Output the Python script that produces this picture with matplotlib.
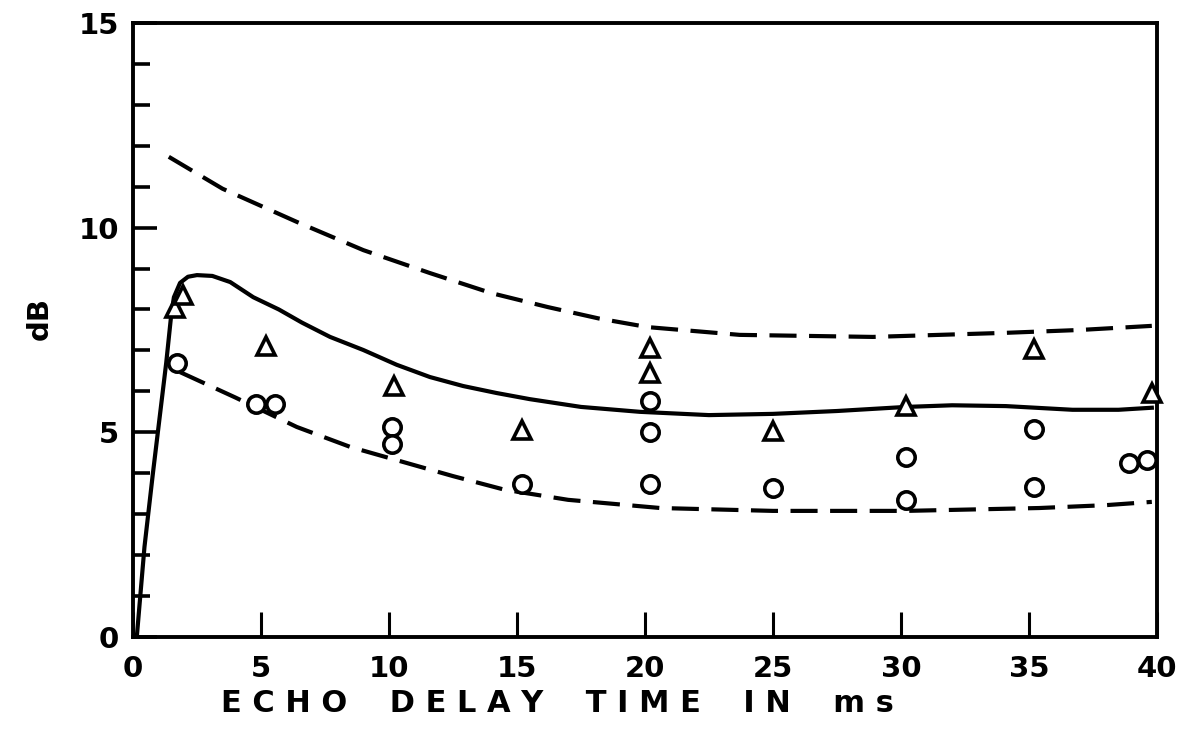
import matplotlib.pyplot as plt
from matplotlib.ticker import MultipleLocator

# --- data ---
circle_x = [1.72, 4.8, 5.55, 10.1, 10.1, 15.2, 20.2, 20.2, 20.2, 25.0, 30.2, 30.2, 35.2, 35.2, 38.9, 39.6]
circle_y = [6.69, 5.69, 5.69, 5.13, 4.72, 3.74, 5.77, 5.00, 3.74, 3.64, 4.40, 3.35, 5.08, 3.66, 4.25, 4.32]

tri_x = [1.64, 1.95, 5.2, 10.2, 15.2, 20.2, 20.2, 25.0, 30.2, 35.2, 39.8]
tri_y = [8.04, 8.36, 7.11, 6.13, 5.06, 7.06, 6.45, 5.03, 5.64, 7.03, 5.96]

solid_x = [0.15, 0.45, 0.78, 1.3, 1.5, 1.6, 1.84, 2.15, 2.5, 3.1, 3.8, 4.7, 5.7, 6.6, 7.7,
           9.0, 10.3, 11.6, 12.9, 14.2, 15.5, 17.5, 19.8, 22.5, 25.0, 27.5, 30.2, 32.0,
           34.1, 36.7, 38.5, 39.8]
solid_y = [0.0, 2.2, 4.0, 6.7, 7.9, 8.3, 8.65, 8.80, 8.84, 8.82, 8.67, 8.3, 8.0, 7.68, 7.33,
           7.01, 6.65, 6.35, 6.13, 5.96, 5.81, 5.62, 5.50, 5.42, 5.45, 5.52, 5.62, 5.66,
           5.64, 5.55, 5.55, 5.6]

upper_x = [1.4, 3.5, 6.4, 9.0, 11.6, 14.0, 16.2, 18.2, 20.1, 23.7, 28.9, 34.1, 37.0, 39.8]
upper_y = [11.73, 10.95, 10.14, 9.45, 8.89, 8.4, 8.06, 7.78, 7.57, 7.38, 7.33, 7.43, 7.5, 7.6]

lower_x = [1.84, 4.0, 6.4, 8.5, 10.3, 12.5, 14.5, 17.0, 20.6, 25.0, 30.2, 35.4, 38.0, 39.8]
lower_y = [6.47, 5.85, 5.13, 4.64, 4.32, 3.93, 3.6, 3.35, 3.15, 3.08, 3.08, 3.15, 3.22, 3.30]

x_ticks = [0, 5, 10, 15, 20, 25, 30, 35, 40]
y_ticks = [0, 5, 10, 15]

plt.rcParams['font.family'] = ['DejaVu Sans']
plt.rcParams['font.weight'] = 'bold'

fig = plt.figure(figsize=(11.86, 7.38), dpi=100)
ax = fig.add_axes([0.1121, 0.1369, 0.8634, 0.8320])

# curves
ax.plot(solid_x, solid_y, color='black', lw=3.0, solid_joinstyle='round', zorder=3)
ax.plot(upper_x, upper_y, color='black', lw=3.0, dashes=(6.5, 3.0), zorder=3)
ax.plot(lower_x, lower_y, color='black', lw=3.0, dashes=(6.5, 3.0), zorder=3)

# data points
ax.plot(circle_x, circle_y, 'o', ms=12.5, mfc='white', mec='black', mew=2.6, zorder=4, clip_on=False)
ax.plot(tri_x, tri_y, '^', ms=13, mfc='white', mec='black', mew=2.6, zorder=4, clip_on=False)

ax.set_xlim(0, 40)
ax.set_ylim(0, 15)
ax.set_xticks(x_ticks)
ax.set_yticks(y_ticks)
ax.yaxis.set_minor_locator(MultipleLocator(1))

for s in ax.spines.values():
    s.set_linewidth(2.8)

ax.tick_params(axis='x', which='major', direction='in', length=18, width=2.2,
               labelsize=21, pad=13, top=False)
ax.tick_params(axis='y', which='major', direction='in', length=17, width=2.6,
               labelsize=21, pad=10, right=False)
ax.tick_params(axis='y', which='minor', direction='in', length=12, width=2.6, right=False)

fig.text(557 / 1186, 1 - 703 / 738, 'E C H O    D E L A Y    T I M E    I N    m s',
         ha='center', va='center', fontsize=22)
fig.text(40 / 1186, 1 - 318 / 738, 'dB', ha='center', va='center', fontsize=21, rotation=90)

fig.savefig('out.png', dpi=100)
